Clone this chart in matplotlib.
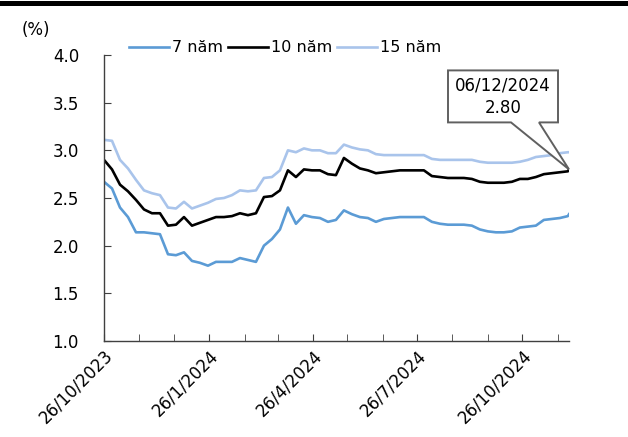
import matplotlib
matplotlib.use("Agg")
import matplotlib.pyplot as plt
import matplotlib.dates as mdates
from matplotlib.patches import Polygon
from matplotlib.transforms import IdentityTransform
import numpy as np
import pandas as pd

plt.rcParams['font.family'] = ['DejaVu Sans']

# Lợi suất TPCP theo tuần (%), từ 26/10/2023 đến 06/12/2024
dates = list(pd.date_range('2023-10-26', periods=59, freq='7D')) + [pd.Timestamp('2024-12-06')]

yield_7y = [2.67, 2.60, 2.40, 2.30, 2.14, 2.14, 2.13, 2.12, 1.91, 1.90,
            1.93, 1.84, 1.82, 1.79, 1.83, 1.83, 1.83, 1.87, 1.85, 1.83,
            2.00, 2.07, 2.17, 2.40, 2.23, 2.32, 2.30, 2.29, 2.25, 2.27,
            2.37, 2.33, 2.30, 2.29, 2.25, 2.28, 2.29, 2.30, 2.30, 2.30,
            2.30, 2.25, 2.23, 2.22, 2.22, 2.22, 2.21, 2.17, 2.15, 2.14,
            2.14, 2.15, 2.19, 2.20, 2.21, 2.27, 2.28, 2.29, 2.31, 2.33]

yield_10y = [2.90, 2.80, 2.64, 2.57, 2.48, 2.38, 2.34, 2.34, 2.21, 2.22,
             2.30, 2.21, 2.24, 2.27, 2.30, 2.30, 2.31, 2.34, 2.32, 2.34,
             2.51, 2.52, 2.58, 2.79, 2.72, 2.80, 2.79, 2.79, 2.75, 2.74,
             2.92, 2.86, 2.81, 2.79, 2.76, 2.77, 2.78, 2.79, 2.79, 2.79,
             2.79, 2.73, 2.72, 2.71, 2.71, 2.71, 2.70, 2.67, 2.66, 2.66,
             2.66, 2.67, 2.70, 2.70, 2.72, 2.75, 2.76, 2.77, 2.78, 2.80]

yield_15y = [3.11, 3.10, 2.90, 2.81, 2.69, 2.58, 2.55, 2.53, 2.40, 2.39,
             2.46, 2.39, 2.42, 2.45, 2.49, 2.50, 2.53, 2.58, 2.57, 2.58,
             2.71, 2.72, 2.79, 3.00, 2.98, 3.02, 3.00, 3.00, 2.97, 2.97,
             3.06, 3.03, 3.01, 3.00, 2.96, 2.95, 2.95, 2.95, 2.95, 2.95,
             2.95, 2.91, 2.90, 2.90, 2.90, 2.90, 2.90, 2.88, 2.87, 2.87,
             2.87, 2.87, 2.88, 2.90, 2.93, 2.94, 2.95, 2.97, 2.98, 2.98]

labels = ['7 năm', '10 năm', '15 năm']
colors = ['#5B9BD5', '#000000', '#A9C4EB']

W, H = 628, 437
fig = plt.figure(figsize=(W / 100, H / 100), dpi=100)
ax = fig.add_axes([104 / W, 1 - 341 / H, 465 / W, 286 / H])

# thanh đen phía trên
fig.add_artist(plt.Line2D([0, 1], [1 - 2.5 / H, 1 - 2.5 / H], color='black', linewidth=3.6,
                          transform=fig.transFigure))

for series, lab, col in zip([yield_7y, yield_10y, yield_15y], labels, colors):
    ax.plot(dates, series, color=col, linewidth=1.9, label=lab)

ax.set_ylim(1.0, 4.0)
ax.set_yticks(np.arange(1.0, 4.01, 0.5))
ax.yaxis.set_major_formatter(matplotlib.ticker.FormatStrFormatter('%.1f'))

major = [pd.Timestamp(d) for d in ['2023-10-26', '2024-01-26', '2024-04-26', '2024-07-26', '2024-10-26']]
minor = [d for d in pd.date_range('2023-10-01', '2024-12-31', freq='MS') + pd.Timedelta(days=25)
         if dates[0] <= d <= dates[-1]]
ax.set_xticks(major)
ax.set_xticks(minor, minor=True)
ax.set_xticklabels([f"{d.day}/{d.month}/{d.year}" for d in major])
ax.set_xlim(dates[0], dates[-1])

for s in ['top', 'right']:
    ax.spines[s].set_visible(False)
for s in ['left', 'bottom']:
    ax.spines[s].set_color('#404040')
    ax.spines[s].set_linewidth(1.0)

ax.tick_params(axis='y', direction='in', length=5, color='#404040', labelsize=12, pad=18)
ax.tick_params(axis='x', which='both', direction='in', length=5, color='#404040', labelsize=12, pad=4)
for t in ax.get_xticklabels():
    t.set_rotation(45)
    t.set_ha('right')
    t.set_va('top')
    t.set_rotation_mode('anchor')

fig.text(22 / W, 1 - 30 / H, '(%)', fontsize=12, va='center', ha='left')

fig.legend(loc='center', bbox_to_anchor=(285 / W, 1 - 48 / H), ncol=3, frameon=False,
           fontsize=11.5, handlelength=2.5, handletextpad=0.2, columnspacing=0.3)

# chú thích giá trị cuối kỳ: khung có đuôi trỏ vào điểm cuối của kỳ hạn 10 năm
tx, ty = ax.transData.transform((mdates.date2num(dates[-1]), yield_10y[-1]))
box_l, box_r, box_b, box_t = tx - 121, tx - 11, ty + 47, ty + 99
tail_l, tail_r = tx - 58, tx - 30
outline = [(box_l, box_b), (tail_l, box_b), (tx, ty), (tail_r, box_b),
           (box_r, box_b), (box_r, box_t), (box_l, box_t)]
fig.add_artist(Polygon(outline, closed=True, fc='white', ec='#606060', lw=1.4,
                       transform=IdentityTransform(), zorder=5))
fig.text((box_l + box_r) / 2 / W, (box_b + box_t) / 2 / H,
         f"{dates[-1].strftime('%d/%m/%Y')}\n{yield_10y[-1]:.2f}",
         ha='center', va='center', fontsize=12, linespacing=1.3, zorder=6)

fig.savefig('out.png', dpi=100)
